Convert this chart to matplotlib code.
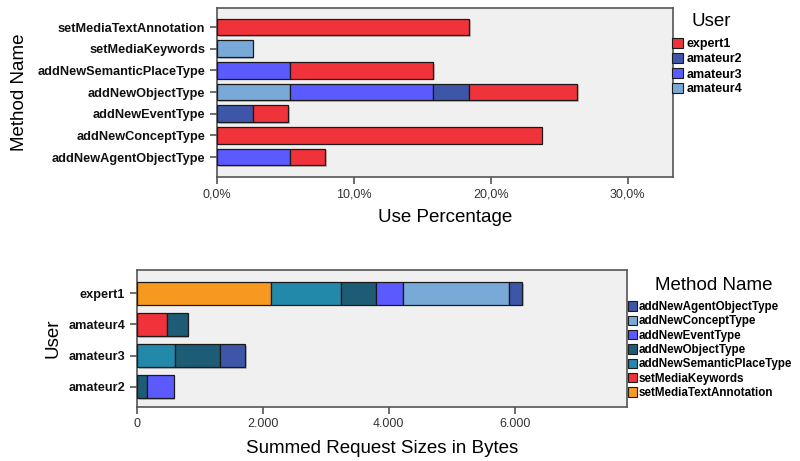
import matplotlib
matplotlib.use('Agg')
import matplotlib.pyplot as plt
import matplotlib.patheffects as pe
from matplotlib.patches import Patch
from matplotlib.ticker import FuncFormatter
import numpy as np

plt.rcParams['font.family'] = ['Liberation Sans', 'DejaVu Sans']

# ---- top chart: use percentage per method, split by user ----
methods = ['addNewAgentObjectType', 'addNewConceptType', 'addNewEventType',
           'addNewObjectType', 'addNewSemanticPlaceType', 'setMediaKeywords',
           'setMediaTextAnnotation']
users_legend = ['expert1', 'amateur2', 'amateur3', 'amateur4']
pct_expert1 = [2.6, 23.7, 2.6, 7.9, 10.5, 0.0, 18.4]
pct_amateur2 = [0.0, 0.0, 2.6, 2.6, 0.0, 0.0, 0.0]
pct_amateur3 = [5.3, 0.0, 0.0, 10.5, 5.3, 0.0, 0.0]
pct_amateur4 = [0.0, 0.0, 0.0, 5.3, 0.0, 2.6, 0.0]
user_colors = {'expert1': '#f0323a', 'amateur2': '#3d56a8',
               'amateur3': '#5a5aff', 'amateur4': '#79a9d6'}

# ---- bottom chart: summed request bytes per user, split by method ----
users = ['amateur2', 'amateur3', 'amateur4', 'expert1']
bytes_textannot = [0, 0, 0, 2135]
bytes_keywords = [0, 0, 483, 0]
bytes_semantic = [0, 604, 0, 1101]
bytes_object = [159, 715, 322, 556]
bytes_event = [424, 0, 0, 429]
bytes_concept = [0, 0, 0, 1689]
bytes_agent = [0, 403, 0, 212]
method_colors = {'addNewAgentObjectType': '#3d56a8', 'addNewConceptType': '#79a9d6',
                 'addNewEventType': '#5a5aff', 'addNewObjectType': '#1d5c74',
                 'addNewSemanticPlaceType': '#2389aa', 'setMediaKeywords': '#f0323a',
                 'setMediaTextAnnotation': '#f7991f'}

bg = '#f0f0f0'
spine_c = '#555555'
shadow = [pe.SimplePatchShadow(offset=(1.2, -1.2), shadow_rgbFace='#999999', alpha=0.6), pe.Normal()]


def stacked(ax, ypos, series, colors, height):
    left = np.zeros(len(ypos))
    for vals, c in zip(series, colors):
        vals = np.asarray(vals, dtype=float)
        for y, l, v in zip(ypos, left, vals):
            if v > 0:
                ax.barh(y, v, left=l, height=height, color=c, edgecolor='#1a1a1a',
                        linewidth=0.9, path_effects=shadow, zorder=3)
        left += vals


def style(ax):
    ax.set_facecolor(bg)
    for s in ax.spines.values():
        s.set_color(spine_c)
        s.set_linewidth(1.2)
    ax.tick_params(axis='both', direction='out', color=spine_c, length=5, width=1.2)
    ax.tick_params(axis='x', labelsize=9, labelcolor='#333333', pad=3)
    for t in ax.get_yticklabels():
        t.set_fontweight('bold')
        t.set_fontsize(9.2)
        t.set_color('#111111')


fig = plt.figure(figsize=(8, 4.61), dpi=100)

# top
ax1 = fig.add_axes([217 / 800, 1 - 177 / 461, 456 / 800, 169 / 461])
y1 = np.arange(len(methods))
stacked(ax1, y1, [pct_amateur4, pct_amateur3, pct_amateur2, pct_expert1],
        [user_colors['amateur4'], user_colors['amateur3'],
         user_colors['amateur2'], user_colors['expert1']], 0.77)
ax1.set_xlim(0, 33.3)
ax1.set_ylim(-0.92, 6.88)
ax1.set_yticks(y1)
ax1.set_yticklabels(methods)
ax1.set_xticks([0, 10, 20, 30])
ax1.xaxis.set_major_formatter(FuncFormatter(lambda v, p: ('%.1f%%' % v).replace('.', ',')))
style(ax1)
ax1.set_xlabel('Use Percentage', fontsize=13.5)
ax1.set_ylabel('Method Name', fontsize=13.5)
ax1.xaxis.set_label_coords(0.5, -0.19)
ax1.yaxis.set_label_coords(-0.414, 0.5)

fig.text(711 / 800, 1 - 22 / 461, 'User', fontsize=13.5, ha='center', va='center')
h1 = [Patch(facecolor=user_colors[u], edgecolor='#1a1a1a', linewidth=0.8) for u in users_legend]
fig.legend(h1, users_legend, loc='upper left', bbox_to_anchor=(672 / 800, 1 - 38 / 461),
           frameon=False, handlelength=0.9, handleheight=0.9,
           handletextpad=0.25, labelspacing=0.2, borderaxespad=0, borderpad=0,
           prop={'weight': 'bold', 'size': 9})

# bottom
ax2 = fig.add_axes([137 / 800, 1 - 407 / 461, 490 / 800, 137 / 461])
y2 = np.arange(len(users))
order = ['setMediaTextAnnotation', 'setMediaKeywords', 'addNewSemanticPlaceType',
         'addNewObjectType', 'addNewEventType', 'addNewConceptType', 'addNewAgentObjectType']
stacked(ax2, y2, [bytes_textannot, bytes_keywords, bytes_semantic, bytes_object,
                  bytes_event, bytes_concept, bytes_agent],
        [method_colors[m] for m in order], 0.73)
ax2.set_xlim(0, 7784)
ax2.set_ylim(-0.65, 3.75)
ax2.set_yticks(y2)
ax2.set_yticklabels(users)
ax2.set_xticks([0, 2000, 4000, 6000])
ax2.xaxis.set_major_formatter(FuncFormatter(lambda v, p: '{:,.0f}'.format(v).replace(',', '.')))
style(ax2)
ax2.set_xlabel('Summed Request Sizes in Bytes', fontsize=13.5)
ax2.set_ylabel('User', fontsize=13.5)
ax2.xaxis.set_label_coords(0.5, -0.24)
ax2.yaxis.set_label_coords(-0.155, 0.5)

fig.text(714 / 800, 1 - 285 / 461, 'Method Name', fontsize=13.5, ha='center', va='center')
legend_methods = order[::-1]
h2 = [Patch(facecolor=method_colors[m], edgecolor='#1a1a1a', linewidth=0.8) for m in legend_methods]
fig.legend(h2, legend_methods, loc='upper left', bbox_to_anchor=(628 / 800, 1 - 301 / 461),
           frameon=False, handlelength=0.8, handleheight=0.85,
           handletextpad=0.15, labelspacing=0.2, borderaxespad=0, borderpad=0,
           prop={'weight': 'bold', 'size': 8.4})

fig.savefig('out.png', dpi=100, facecolor='white')
